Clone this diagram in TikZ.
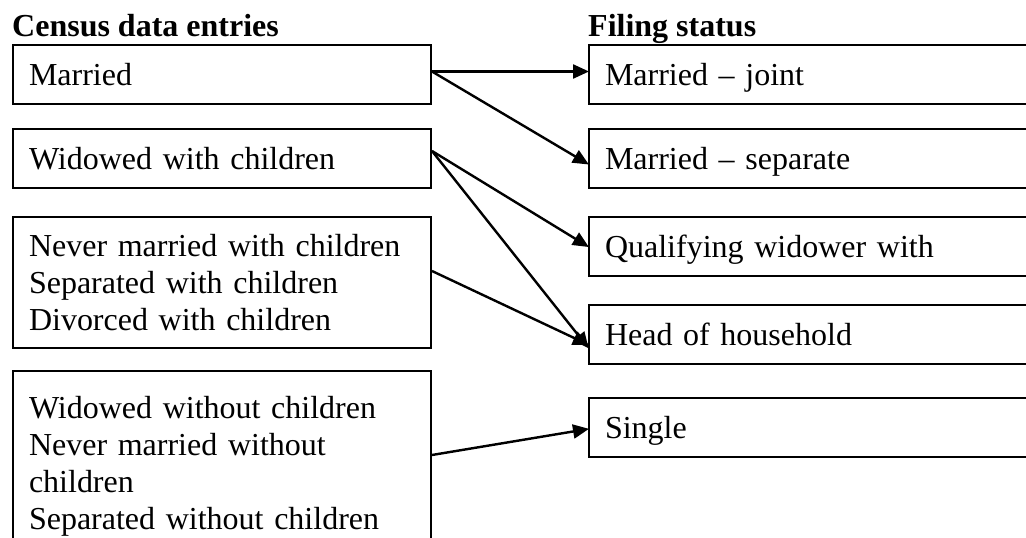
\documentclass[tikz,border=0pt]{standalone}
\usepackage{fontspec}
\setmainfont{Liberation Serif}
\usetikzlibrary{arrows.meta}
\begin{document}
\begin{tikzpicture}[x=1pt,y=-1pt,
  txt/.style={font=\fontsize{32}{36.8}\selectfont},
  box/.style={txt, draw, line width=2pt, anchor=north west, inner xsep=16pt, inner ysep=0pt, align=left},
  lbox/.style={box, minimum width=418pt, text width=386pt},
  rbox/.style={box, minimum width=470pt, text width=438pt, minimum height=59pt, text height=22pt, text depth=0pt},
  one/.style={minimum height=59pt, text height=22pt, text depth=0pt},
  ttl/.style={font=\fontsize{32}{36.8}\selectfont\bfseries, anchor=base west, inner sep=0pt},
  arr/.style={line width=2.4pt, -{Triangle[length=16pt,width=14pt]}, shorten >=-1pt}
]
\useasboundingbox (0,0) rectangle (1026,538);
\clip (0,0) rectangle (1026,538);
\fill[white] (0,0) rectangle (1026,538);

\node[ttl] (t1) at (12,36) {Census data entries};
\node[ttl] (t2) at (588,36) {Filing status};

\node[lbox, one] (m) at (12,44) {Married};
\node[lbox, one] (w) at (12,128) {Widowed with children};
\node[lbox, minimum height=131pt] (n) at (12,216) {Never married with children\\Separated with children\\Divorced with children};
\node[lbox, minimum height=191pt] (s) at (12,370) {Widowed without children\\Never married without\\children\\Separated without children};

\node[rbox] (mj) at (588,44) {Married -- joint};
\node[rbox] (ms) at (588,128) {Married -- separate};
\node[rbox] (q) at (588,216) {Qualifying widower with};
\node[rbox] (h) at (588,304) {Head of household};
\node[rbox] (sg) at (588,397) {Single};

\draw[arr] ([yshift=3pt]m.east) -- ([yshift=3pt]mj.west);
\draw[arr] ([yshift=3pt]m.east) -- ([yshift=-5.5pt]ms.west);
\draw[arr] ([yshift=7.5pt]w.east) -- ([yshift=0pt]q.west);
\draw[arr] ([yshift=7.5pt]w.east) -- ([yshift=-13pt]h.west);
\draw[arr] ([yshift=11.5pt]n.east) -- ([yshift=-10pt]h.west);
\draw[arr] ([yshift=11.5pt]s.east) -- ([yshift=-1.5pt]sg.west);
\end{tikzpicture}
\end{document}
